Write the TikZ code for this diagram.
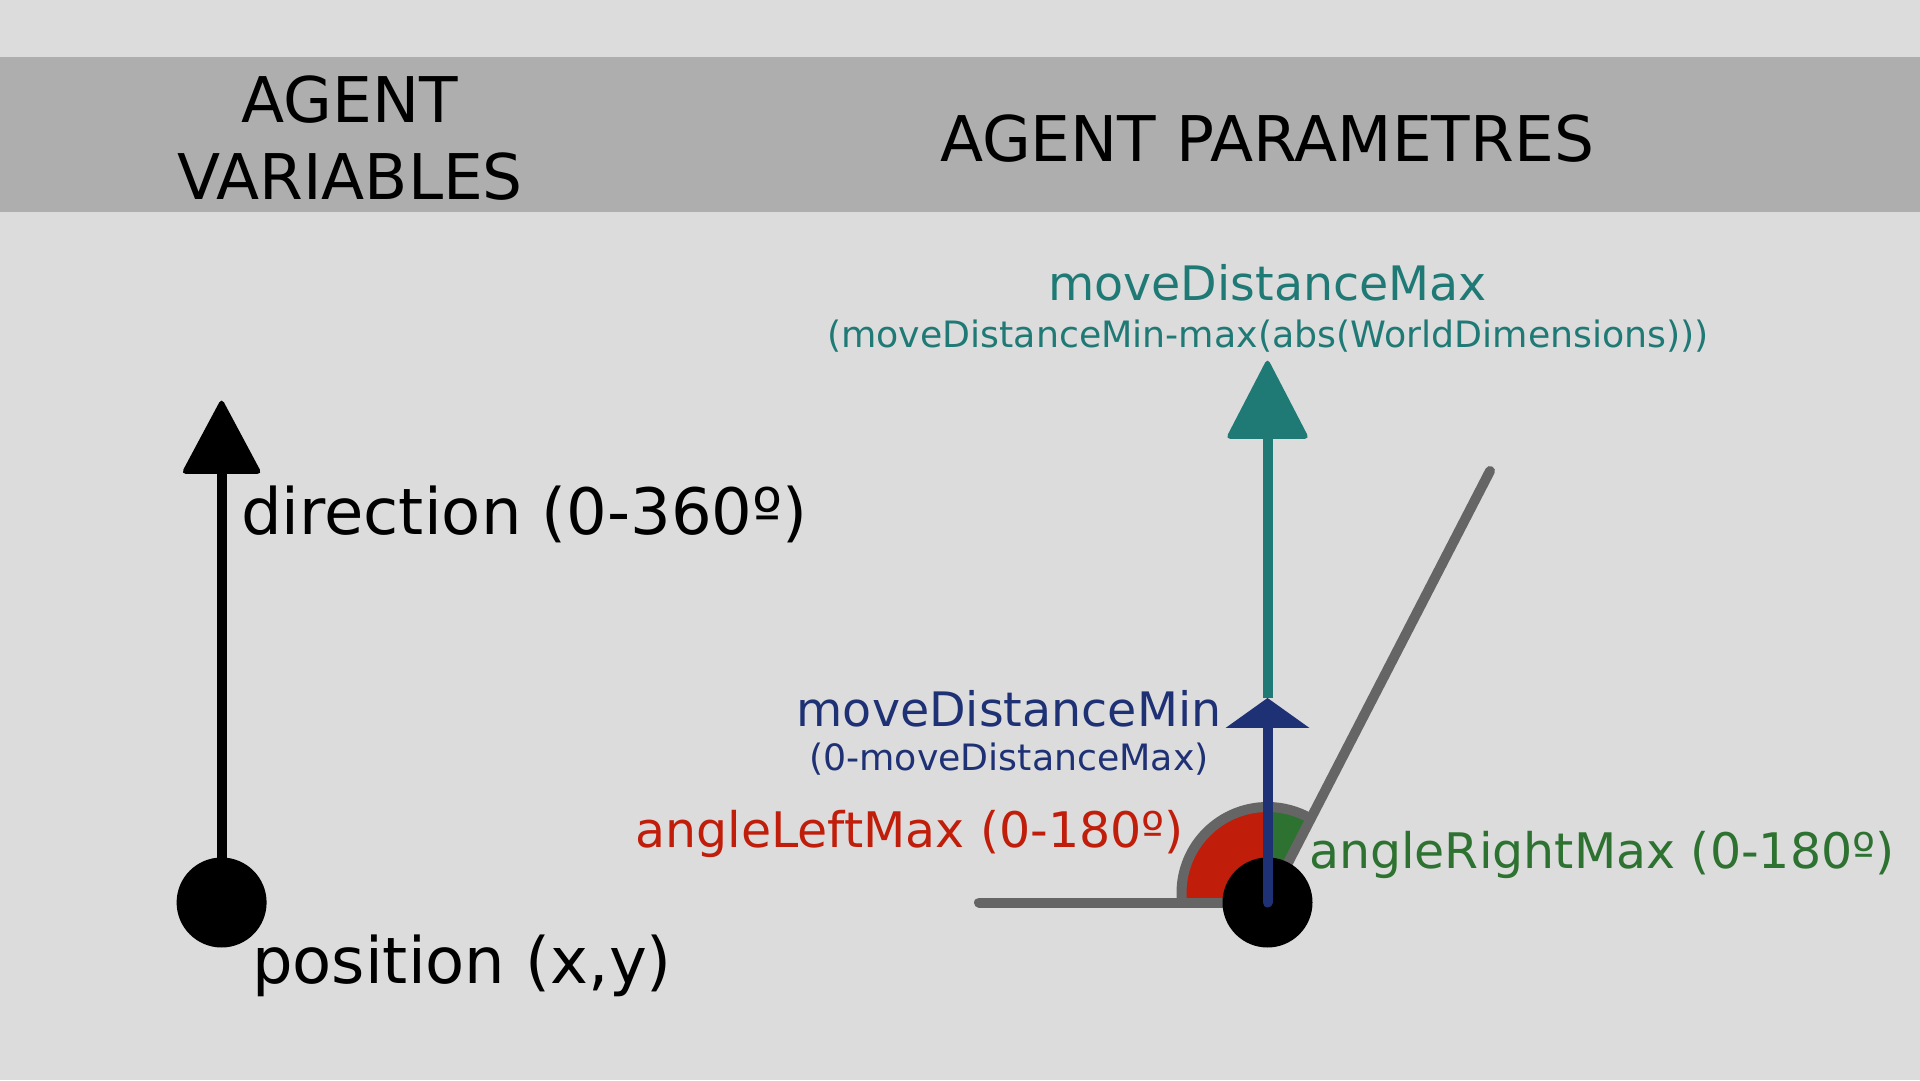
\documentclass[tikz,border=0pt]{standalone}
\usepackage{fontspec}
\setmainfont{DejaVu Sans}
\usetikzlibrary{calc}
\definecolor{bgc}{HTML}{DCDCDC}
\definecolor{bannerc}{HTML}{AEAEAE}
\definecolor{grayc}{HTML}{656565}
\definecolor{tealc}{HTML}{1F7A76}
\definecolor{bluec}{HTML}{1F3175}
\definecolor{redc}{HTML}{C01E0A}
\definecolor{greenc}{HTML}{2D7230}
\begin{document}
\begin{tikzpicture}[x=1pt,y=1pt,
  txt/.style={inner sep=0pt, outer sep=0pt},
  hdr/.style={txt, font=\fontsize{63}{75}\selectfont},
  big/.style={txt, font=\fontsize{64}{76}\selectfont},
  mid/.style={txt, font=\fontsize{47.5}{57}\selectfont},
  small/.style={txt, font=\fontsize{36.3}{44}\selectfont},
  dot/.style={circle, fill=black, minimum size=90pt, inner sep=0pt},
  stem/.style={line width=10pt},
  grayline/.style={grayc, line width=10pt, line cap=round}
]
\fill[bgc] (0,0) rectangle (1920,1080);
\useasboundingbox (0,0) rectangle (1920,1080);
\fill[bannerc] (0,868) rectangle (1920,1022.5);

% header
\node[hdr, anchor=base] (hv1) at (350,957.5) {AGENT};
\node[hdr, anchor=base] (hv2) at (350,880.5) {VARIABLES};
\node[hdr, anchor=base] (hp) at (1267,918.5) {AGENT PARAMETRES};

% left: agent variables
\node[dot] (pos) at (221.6,177.5) {};
\coordinate (dirbase) at (221.6,610);
\coordinate (dirtip) at (221.6,682);
\draw[stem, black] (pos.center) -- (dirbase);
\fill[black, rounded corners=5pt] (181,606) -- (dirtip) -- (262.2,606) -- cycle;
\node[big, anchor=base west] (dirlbl) at (241,545) {direction (0-360º)};
\node[big, anchor=base west] (poslbl) at (252,97) {position (x,y)};

% right: agent parameters
\coordinate (C) at (1267.5,177.5);
\coordinate (A) at (1267.5,187);
\coordinate (hend) at (979,177.5);
\coordinate (dend) at (1490,609);
\fill[redc] (1267.5,181) -- (1181.5,181) -- (1181.5,187)
  arc[start angle=180, end angle=90, radius=86] -- cycle;
\fill[greenc] ($(A)+(90:86)$) arc[start angle=90, end angle=59.7, radius=86] -- (C) -- (A) -- cycle;
\draw[grayc, line width=10pt] (1181.5,180) -- (1181.5,187)
  arc[start angle=180, end angle=60, radius=86];
\draw[grayline] (hend) -- (C);
\draw[grayline] (C) -- (dend);
\node[dot] (agent) at (C) {};

\coordinate (bluebase) at (1267.5,352);
\coordinate (bluetip) at (1267.5,382);
\coordinate (tealbase) at (1267.5,643);
\coordinate (tealtip) at (1267.5,722);
\draw[stem, tealc] (bluetip) -- ($(tealbase)+(0,2)$);
\draw[stem, bluec, line cap=round] (agent.center) -- ($(bluebase)+(0,2)$);
\fill[bluec] (1225.5,352) -- (bluetip) -- (1309.5,352) -- cycle;
\fill[tealc, rounded corners=5pt] (1225.5,641) -- (tealtip) -- (1309.5,641) -- cycle;

\node[mid, anchor=base, text=tealc] (maxlbl) at (1267.5,779) {moveDistanceMax};
\node[small, anchor=base, text=tealc] (maxrng) at (1268,732) {(moveDistanceMin-max(abs(WorldDimensions)))};
\node[mid, anchor=base, text=bluec] (minlbl) at (1009,353) {moveDistanceMin};
\node[small, anchor=base, text=bluec] (minrng) at (1009,309) {(0-moveDistanceMax)};
\node[txt, font=\fontsize{49}{58}\selectfont, anchor=base east, text=redc] (leftlbl) at (1184,233) {angleLeftMax (0-180º)};
\node[txt, font=\fontsize{49}{58}\selectfont, anchor=base west, text=greenc] (rightlbl) at (1309,212) {angleRightMax (0-180º)};
\end{tikzpicture}
\end{document}
